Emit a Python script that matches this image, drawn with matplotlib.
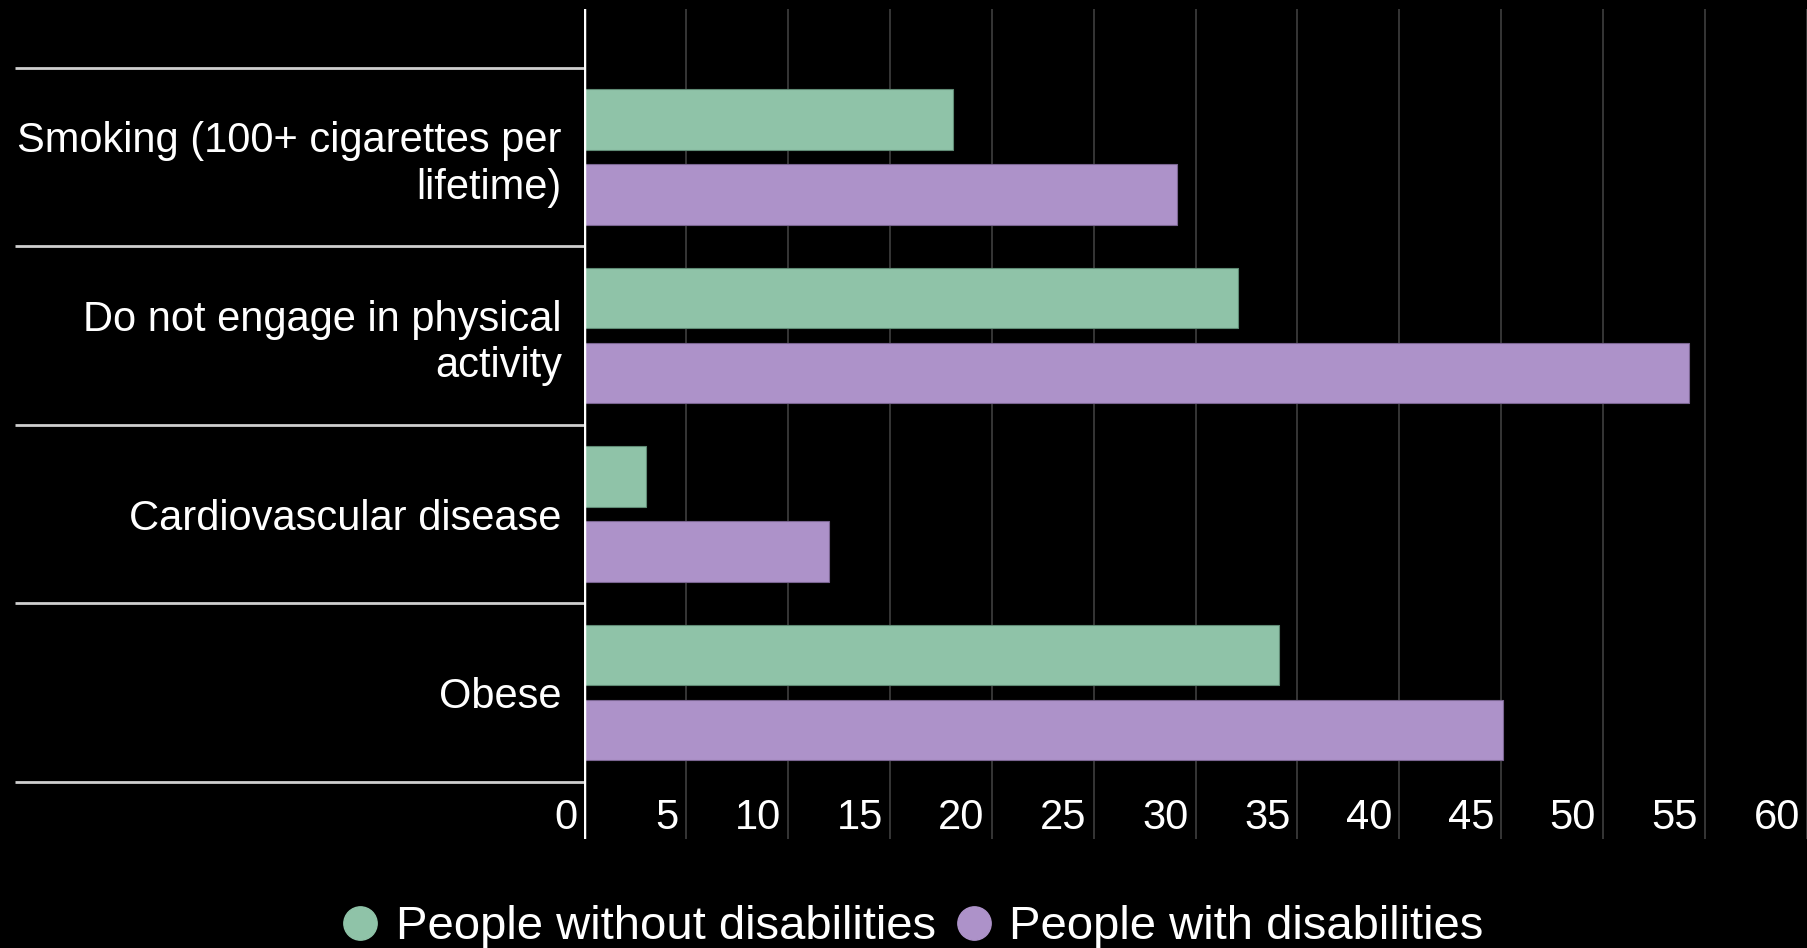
import numpy as np
import matplotlib
matplotlib.use("Agg")
from matplotlib import pyplot
from matplotlib.lines import Line2D
from matplotlib.transforms import offset_copy

# data
categories = ["Smoking (100+ cigarettes per\nlifetime)",
              "Do not engage in physical\nactivity",
              "Cardiovascular disease",
              "Obese"]
without_dis = [18.1, 32.1, 3.05, 34.1]
with_dis = [29.1, 54.2, 12.0, 45.1]
series_names = ["People without disabilities", "People with disabilities"]
xticks = list(range(0, 61, 5))

green = "#8fc3a8"
purple = "#ad92c9"

pyplot.rcParams['font.family'] = ['Liberation Sans', 'DejaVu Sans']

fig = pyplot.figure(figsize=(18.07, 9.48), dpi=100, facecolor="black")
ax = fig.add_axes([0.3232, 0.115, 0.6768, 0.875])
ax.set_facecolor("black")

y = np.arange(len(categories))
h = 0.34
off = 0.21
ax.barh(y - off, without_dis, height=h, color=green, edgecolor="#5f8a74", linewidth=0.8, zorder=3)
ax.barh(y + off, with_dis, height=h, color=purple, edgecolor="#7a6591", linewidth=0.8, zorder=3)

ax.set_xlim(0, 60)
ax.set_ylim(3.82, -0.826)

# vertical gridlines
for v in xticks[1:]:
    ax.axvline(v, color="#3a3a3a", lw=1.3, zorder=1)
ax.axvline(0, color="white", lw=2.5, zorder=4)

for s in ax.spines.values():
    s.set_visible(False)

# x tick labels sit inside the plot area
ax.set_xticks([])
for v in xticks:
    tr = offset_copy(ax.transData, fig=fig, x=-7, y=0, units='dots')
    ax.text(v, 3.70, str(v), color="white", fontsize=30, ha="right", va="center",
            transform=tr, zorder=5)

# category labels and long separator ticks
ax.set_yticks(y)
ax.set_yticklabels(categories, color="white", fontsize=30, ha="right",
                   linespacing=1.2)
ax.tick_params(axis="y", which="major", length=0, pad=16)
ax.set_yticks(np.arange(-0.5, len(categories), 1.0), minor=True)
ax.tick_params(axis="y", which="minor", length=410, width=2, color="#cfcfcf")

handles = [Line2D([], [], marker="o", ls="none", markersize=24, color=green),
           Line2D([], [], marker="o", ls="none", markersize=24, color=purple)]
leg = fig.legend(handles, series_names, loc="center", bbox_to_anchor=(0.505, 0.022),
                 ncol=2, frameon=False, fontsize=34, handlelength=0.8,
                 handletextpad=0.35, columnspacing=0.4, labelcolor="white")

fig.savefig("out.png", dpi=100, facecolor="black")
